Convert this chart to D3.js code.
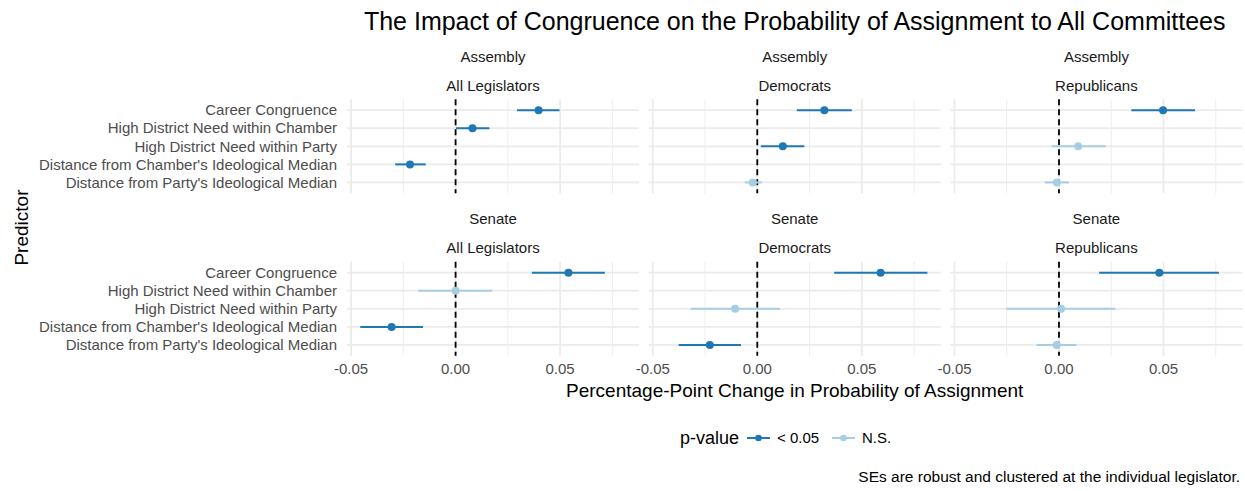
<!DOCTYPE html>
<html>
<head>
<meta charset="utf-8">
<script src="https://cdn.jsdelivr.net/npm/d3@7"></script>
<style>
  body { margin: 0; background: #fff; }
  text { font-family: "Liberation Sans", Arial, sans-serif; }
</style>
</head>
<body>
<div id="chart"></div>
<script>
// Chart size
var width = 1245;
var height = 491;

// Facets and categories
var chambers = ["Assembly", "Senate"];
var groups = ["All Legislators", "Democrats", "Republicans"];
var predictors = ["Career Congruence",
                  "High District Need within Chamber",
                  "High District Need within Party",
                  "Distance from Chamber's Ideological Median",
                  "Distance from Party's Ideological Median"];
var sigLevels = ["< 0.05", "N.S."];
var xTicks = [-0.05, 0, 0.05];
var xMinorTicks = [-0.025, 0.025, 0.075];

// Estimates, one entry per row
var rowChamber = ["Assembly", "Assembly", "Assembly",
                  "Assembly", "Assembly", "Assembly",
                  "Assembly", "Assembly", "Assembly",
                  "Senate", "Senate", "Senate",
                  "Senate", "Senate", "Senate",
                  "Senate", "Senate", "Senate"];
var rowGroup = ["All Legislators", "All Legislators", "All Legislators",
                "Democrats", "Democrats", "Democrats",
                "Republicans", "Republicans", "Republicans",
                "All Legislators", "All Legislators", "All Legislators",
                "Democrats", "Democrats", "Democrats",
                "Republicans", "Republicans", "Republicans"];
var rowPredictor = [0, 1, 3,  0, 2, 4,  0, 2, 4,
                    0, 1, 3,  0, 2, 4,  0, 2, 4];
var estimate = [0.0397, 0.0081, -0.0218,
                0.0321, 0.0122, -0.0022,
                0.0498, 0.0092, -0.0010,
                0.0540, 0.0000, -0.0306,
                0.0590, -0.0106, -0.0227,
                0.0480, 0.0010, -0.0011];
var lower = [0.0294, 0.0002, -0.0289,
             0.0189, 0.0017, -0.0060,
             0.0346, -0.0035, -0.0067,
             0.0365, -0.0178, -0.0456,
             0.0368, -0.0319, -0.0376,
             0.0192, -0.0251, -0.0108];
var upper = [0.0497, 0.0162, -0.0143,
             0.0452, 0.0225, 0.0022,
             0.0651, 0.0224, 0.0048,
             0.0714, 0.0176, -0.0156,
             0.0814, 0.0108, -0.0078,
             0.0765, 0.0270, 0.0084];
var pSig = ["< 0.05", "< 0.05", "< 0.05",
            "< 0.05", "< 0.05", "N.S.",
            "< 0.05", "N.S.", "N.S.",
            "< 0.05", "N.S.", "< 0.05",
            "< 0.05", "N.S.", "< 0.05",
            "< 0.05", "N.S.", "N.S."];

var rows = estimate.map(function(d, i) {
    return { chamber: rowChamber[i], group: rowGroup[i],
             predictor: predictors[rowPredictor[i]],
             est: d, lo: lower[i], hi: upper[i], sig: pSig[i] };
});

// Panel layout
var panelLeft = 347;
var panelW = 292;
var panelGap = 9.7;
var panelTops = [99.3, 261.8];
var panelH = 94;

var color = d3.scaleOrdinal().domain(sigLevels).range(["#1f78b4", "#a6cee3"]);

// x scale shared by all panels, expanded by 5% like ggplot
var lo = d3.min(lower), hi = d3.max(upper);
var pad = (hi - lo) * 0.05;
var x = d3.scaleLinear().domain([lo - pad, hi + pad]).range([0, panelW]);

var y = d3.scalePoint().domain(predictors).range([0, panelH]).padding(0.6);

var svg = d3.select("#chart").append("svg")
    .attr("width", width)
    .attr("height", height);

// Title
svg.append("text")
    .attr("x", panelLeft + (3 * panelW + 2 * panelGap) / 2)
    .attr("y", 30)
    .attr("text-anchor", "middle")
    .attr("font-size", "25px")
    .attr("fill", "#000")
    .text("The Impact of Congruence on the Probability of Assignment to All Committees");

chambers.forEach(function(chamber, r) {
    // y axis labels on the left of each row
    svg.append("g")
        .selectAll("text")
        .data(predictors)
        .enter()
        .append("text")
        .attr("x", panelLeft - 10)
        .attr("y", d => panelTops[r] + y(d))
        .attr("dy", "0.35em")
        .attr("text-anchor", "end")
        .attr("font-size", "15px")
        .attr("fill", "#4d4d4d")
        .text(d => d);

    groups.forEach(function(group, c) {
        var px = panelLeft + c * (panelW + panelGap);
        var py = panelTops[r];
        var g = svg.append("g").attr("transform", "translate(" + px + "," + py + ")");

        // strip labels
        g.append("text")
            .attr("x", panelW / 2)
            .attr("y", -43)
            .attr("dy", "0.35em")
            .attr("text-anchor", "middle")
            .attr("font-size", "15px")
            .attr("fill", "#1a1a1a")
            .text(chamber);
        g.append("text")
            .attr("x", panelW / 2)
            .attr("y", -14)
            .attr("dy", "0.35em")
            .attr("text-anchor", "middle")
            .attr("font-size", "15px")
            .attr("fill", "#1a1a1a")
            .text(group);

        // grid lines
        g.selectAll(".minor")
            .data(xMinorTicks)
            .enter()
            .append("line")
            .attr("x1", d => x(d)).attr("x2", d => x(d))
            .attr("y1", 0).attr("y2", panelH)
            .attr("stroke", "#ebebeb")
            .attr("stroke-width", 0.9);
        g.selectAll(".major")
            .data(xTicks)
            .enter()
            .append("line")
            .attr("x1", d => x(d)).attr("x2", d => x(d))
            .attr("y1", 0).attr("y2", panelH)
            .attr("stroke", "#ebebeb")
            .attr("stroke-width", 1.8);
        g.selectAll(".hgrid")
            .data(predictors)
            .enter()
            .append("line")
            .attr("x1", 0).attr("x2", panelW)
            .attr("y1", d => y(d)).attr("y2", d => y(d))
            .attr("stroke", "#ebebeb")
            .attr("stroke-width", 1.8);

        // zero reference line
        g.append("line")
            .attr("x1", x(0)).attr("x2", x(0))
            .attr("y1", 0).attr("y2", panelH)
            .attr("stroke", "#000")
            .attr("stroke-width", 1.8)
            .attr("stroke-dasharray", "6,4");

        var sub = rows.filter(d => d.chamber === chamber && d.group === group);

        g.selectAll(".ci")
            .data(sub)
            .enter()
            .append("line")
            .attr("x1", d => x(d.lo)).attr("x2", d => x(d.hi))
            .attr("y1", d => y(d.predictor)).attr("y2", d => y(d.predictor))
            .attr("stroke", d => color(d.sig))
            .attr("stroke-width", 2);

        g.selectAll(".pt")
            .data(sub)
            .enter()
            .append("circle")
            .attr("cx", d => x(d.est))
            .attr("cy", d => y(d.predictor))
            .attr("r", 4)
            .attr("fill", d => color(d.sig));

        // x axis labels on the bottom row only
        if (r === chambers.length - 1) {
            g.selectAll(".xlab")
                .data(xTicks)
                .enter()
                .append("text")
                .attr("x", d => x(d))
                .attr("y", panelH + 13)
                .attr("dy", "0.35em")
                .attr("text-anchor", "middle")
                .attr("font-size", "15px")
                .attr("fill", "#4d4d4d")
                .text(d => d3.format(".2f")(d).replace("−", "-"));
        }
    });
});

// Axis titles
svg.append("text")
    .attr("x", panelLeft + (3 * panelW + 2 * panelGap) / 2)
    .attr("y", 390)
    .attr("dy", "0.35em")
    .attr("text-anchor", "middle")
    .attr("font-size", "19px")
    .attr("fill", "#000")
    .text("Percentage-Point Change in Probability of Assignment");

svg.append("text")
    .attr("transform", "translate(21," + (panelTops[0] + panelTops[1] + panelH) / 2 + ")rotate(-90)")
    .attr("dy", "0.35em")
    .attr("text-anchor", "middle")
    .attr("font-size", "19px")
    .attr("fill", "#000")
    .text("Predictor");

// Legend
var legend = svg.append("g").attr("transform", "translate(680,438)");
legend.append("text")
    .attr("x", 0).attr("y", 0)
    .attr("dy", "0.32em")
    .attr("font-size", "18px")
    .attr("fill", "#000")
    .text("p-value");

var keyX = [67, 152];
sigLevels.forEach(function(s, i) {
    var k = legend.append("g").attr("transform", "translate(" + keyX[i] + ",0)");
    k.append("line")
        .attr("x1", 0).attr("x2", 23)
        .attr("y1", 0).attr("y2", 0)
        .attr("stroke", color(s))
        .attr("stroke-width", 2);
    k.append("circle")
        .attr("cx", 11.5).attr("cy", 0)
        .attr("r", 3.3)
        .attr("fill", color(s));
    k.append("text")
        .attr("x", 30).attr("y", 0)
        .attr("dy", "0.35em")
        .attr("font-size", "15px")
        .attr("fill", "#000")
        .text(s);
});

// Caption
svg.append("text")
    .attr("x", 1240)
    .attr("y", 477)
    .attr("dy", "0.35em")
    .attr("text-anchor", "end")
    .attr("font-size", "15.5px")
    .attr("fill", "#000")
    .text("SEs are robust and clustered at the individual legislator.");
</script>
</body>
</html>
